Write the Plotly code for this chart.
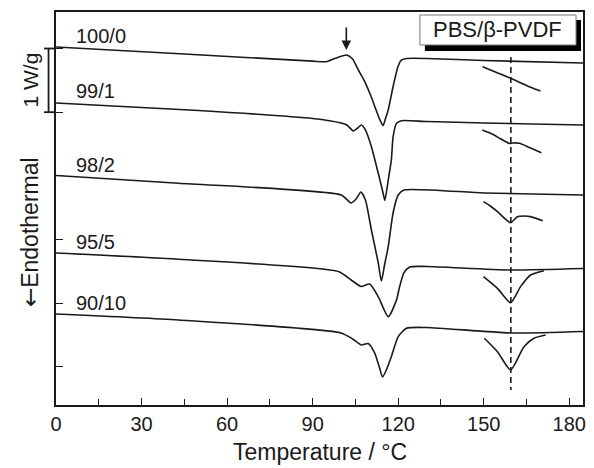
import plotly.graph_objects as go

# ---- data (temperature in °C, heat flow in W/g, curves vertically offset) ----
T_100_0 = [0, 45, 90, 94.8, 97.9, 101.9, 104, 106, 108, 110.3, 112.2, 113.6, 114.7, 115.6, 116.5, 118.2, 119.9, 121.1, 123, 130, 150, 184.8]
H_100_0 = [5.024, 4.914, 4.801, 4.793, 4.846, 4.898, 4.835, 4.663, 4.505, 4.270, 4.040, 3.878, 3.791, 3.909, 4.035, 4.400, 4.714, 4.819, 4.843, 4.843, 4.812, 4.772]

T_99_1 = [0, 50, 90, 100, 102, 104.3, 105.8, 107.1, 108.5, 110.6, 113, 114.7, 115.3, 116.5, 117.6, 118.2, 119.4, 121.1, 130, 150, 184.8]
H_99_1 = [4.144, 4.027, 3.901, 3.830, 3.799, 3.705, 3.752, 3.799, 3.721, 3.458, 3.041, 2.732, 2.614, 2.936, 3.250, 3.611, 3.826, 3.867, 3.854, 3.830, 3.799]

T_98_2 = [0, 43, 100, 103.5, 105.3, 106.9, 108.5, 110.6, 113, 114.1, 115.2, 116.5, 118.2, 120, 122, 150, 184.8]
H_98_2 = [3.006, 2.884, 2.700, 2.575, 2.640, 2.747, 2.622, 2.151, 1.633, 1.350, 1.601, 1.889, 2.418, 2.700, 2.779, 2.732, 2.700]

T_95_5 = [0, 43, 99, 103.5, 107, 110, 113, 116.5, 119.4, 120.5, 122, 124, 130, 159, 184.8]
H_95_5 = [1.790, 1.691, 1.499, 1.366, 1.264, 1.303, 1.104, 0.790, 1.052, 1.261, 1.476, 1.570, 1.578, 1.523, 1.546]

T_90_10 = [0, 43, 100, 104, 107, 109.5, 111.8, 113.5, 114.5, 116, 117.6, 120, 122.9, 130, 159.5, 184.8]
H_90_10 = [0.832, 0.738, 0.534, 0.440, 0.345, 0.369, 0.215, -0.020, -0.157, -0.031, 0.162, 0.476, 0.608, 0.620, 0.534, 0.557]

# magnified PVDF melting region insets
TI_100_0 = [149.6, 154.5, 159.4, 166.4, 169.9]
HI_100_0 = [4.714, 4.623, 4.532, 4.391, 4.333]
TI_99_1 = [149.5, 153, 156, 159, 160, 162.5, 166, 170.2]
HI_99_1 = [3.721, 3.658, 3.579, 3.509, 3.516, 3.512, 3.446, 3.364]
TI_98_2 = [149.9, 152.3, 154.8, 159.4, 161.8, 164.1, 166.4, 170.7]
HI_98_2 = [2.595, 2.527, 2.438, 2.265, 2.360, 2.370, 2.360, 2.297]
TI_95_5 = [149.9, 154.8, 159.4, 162.9, 166.4, 171.1]
HI_95_5 = [1.418, 1.235, 1.009, 1.261, 1.444, 1.512]
TI_90_10 = [150.2, 154.8, 159.4, 164.1, 167.6, 171.7]
HI_90_10 = [0.451, 0.240, -0.047, 0.319, 0.451, 0.502]

labels = ["100/0", "99/1", "98/2", "95/5", "90/10"]
label_y = [5.196, 4.333, 3.171, 1.962, 1.005]
x_ticks = [0, 30, 60, 90, 120, 150, 180]
T_pvdf = 159.5
T_arrow = 101.8

LINE = dict(color="#1a1a1a", width=1.6)
FONT = "Liberation Sans, Arial, sans-serif"

fig = go.Figure()
for T, H in [(T_100_0, H_100_0), (T_99_1, H_99_1), (T_98_2, H_98_2), (T_95_5, H_95_5), (T_90_10, H_90_10)]:
    fig.add_trace(go.Scatter(x=T, y=H, mode="lines", line=dict(shape="spline", smoothing=0.6, **LINE), showlegend=False))
for T, H in [(TI_100_0, HI_100_0), (TI_99_1, HI_99_1), (TI_98_2, HI_98_2), (TI_95_5, HI_95_5), (TI_90_10, HI_90_10)]:
    fig.add_trace(go.Scatter(x=T, y=H, mode="lines", line=dict(shape="spline", smoothing=0.6, **LINE), showlegend=False))

# dashed PVDF melting line
fig.add_trace(go.Scatter(x=[T_pvdf, T_pvdf], y=[4.867, -0.361], mode="lines",
                         line=dict(color="#1a1a1a", width=1.6, dash="6px,4px"), showlegend=False))

W, Hh = 594, 468
ml, mr, mt, mb = 56, 8, 12, 63
pw, ph = W - ml - mr, Hh - mt - mb
def px(x):
    return (x - ml) / pw
def py(y):
    return (Hh - mb - y) / ph

shapes = []
# legend box with shadow
shapes.append(dict(type="rect", xref="paper", yref="paper", x0=px(427), x1=px(584), y0=py(51), y1=py(20),
                   fillcolor="black", line=dict(width=0)))
shapes.append(dict(type="rect", xref="paper", yref="paper", x0=px(422), x1=px(579), y0=py(45), y1=py(15),
                   fillcolor="white", line=dict(color="#777", width=1)))
# scale bar 1 W/g
shapes.append(dict(type="line", xref="paper", yref="y", x0=px(48.5), x1=px(48.5), y0=4, y1=5, line=dict(color="#1a1a1a", width=1.8)))
shapes.append(dict(type="line", xref="paper", yref="y", x0=px(44), x1=px(56), y0=5, y1=5, line=dict(color="#1a1a1a", width=1.8)))
shapes.append(dict(type="line", xref="paper", yref="y", x0=px(44), x1=px(56), y0=4, y1=4, line=dict(color="#1a1a1a", width=1.8)))

ann = []
for lab, yy in zip(labels, label_y):
    ann.append(dict(x=6.3, y=yy, xref="x", yref="y", text=lab, showarrow=False, xanchor="left", yanchor="middle",
                    font=dict(size=20, family=FONT, color="#1a1a1a")))
ann.append(dict(x=px(500), y=py(30), xref="paper", yref="paper", text="PBS/β-PVDF", showarrow=False,
                xanchor="center", yanchor="middle", font=dict(size=22, family=FONT, color="#1a1a1a")))
ann.append(dict(x=px(30), y=4.5, xref="paper", yref="y", text="1 W/g", textangle=-90, showarrow=False,
                xanchor="center", yanchor="middle", font=dict(size=21, family=FONT, color="#1a1a1a")))
ann.append(dict(x=px(30), y=2.12, xref="paper", yref="y",
                text="<span style='font-family:DejaVu Sans'>←</span>Endothermal", textangle=-90, showarrow=False,
                xanchor="center", yanchor="middle", font=dict(size=23, family=FONT, color="#1a1a1a")))
ann.append(dict(x=px(322), y=py(452), xref="paper", yref="paper", text="Temperature / °C", showarrow=False,
                xanchor="center", yanchor="middle", font=dict(size=23, family=FONT, color="#1a1a1a")))
ann.append(dict(x=T_arrow, y=4.976, xref="x", yref="y", text="", showarrow=True, ax=0, ay=-24,
                arrowhead=2, arrowsize=1.2, arrowwidth=1.6, arrowcolor="#1a1a1a"))

fig.update_layout(
    width=W, height=Hh, margin=dict(l=ml, r=mr, t=mt, b=mb),
    paper_bgcolor="white", plot_bgcolor="white",
    shapes=shapes, annotations=ann,
    font=dict(family=FONT, color="#1a1a1a"),
)
fig.update_xaxes(range=[0, 184.8], tickvals=x_ticks, ticks="inside", ticklen=7, tickwidth=1.4, tickcolor="#1a1a1a",
                 minor=dict(dtick=15, tick0=0, ticks="inside", ticklen=6, tickwidth=1.4, tickcolor="#1a1a1a"),
                 showline=True, linewidth=1.8, linecolor="#1a1a1a", mirror=True, showgrid=False, zeroline=False,
                 tickfont=dict(size=20, family=FONT, color="#1a1a1a"))
fig.update_yaxes(range=[-0.597, 5.573], tickvals=[0, 1, 2, 3, 4, 5], ticks="inside", ticklen=7, tickwidth=1.4,
                 tickcolor="#1a1a1a", showticklabels=False,
                 showline=True, linewidth=1.8, linecolor="#1a1a1a", mirror=True, showgrid=False, zeroline=False)

fig.write_html("out.html")
